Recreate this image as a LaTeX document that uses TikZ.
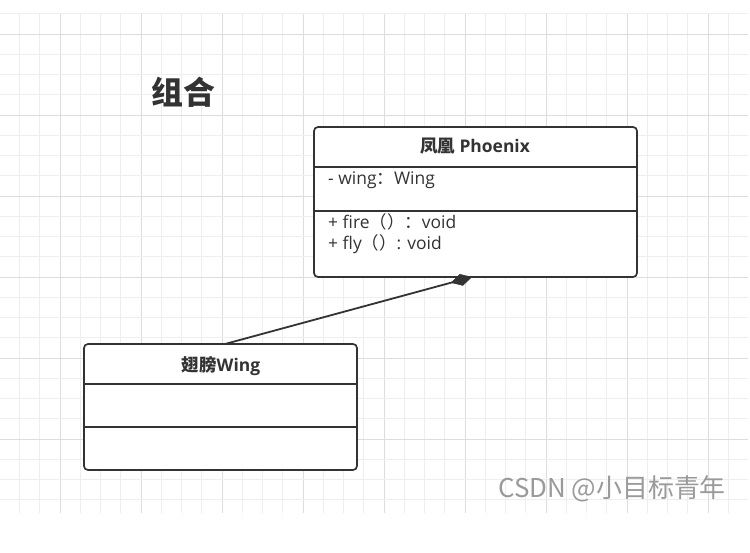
\documentclass[tikz,border=0pt]{standalone}
\usepackage{fontspec}
\setmainfont{Open Sans}
\newfontfamily\cjk{Noto Sans CJK SC}
\usetikzlibrary{arrows.meta}
\definecolor{ink}{HTML}{333333}
\definecolor{minorg}{HTML}{EEEEEE}
\definecolor{majorg}{HTML}{DDDDDD}
\definecolor{wm}{HTML}{9A9A9A}
\tikzset{
  minorgrid/.style={draw=minorg, line width=0.8bp},
  majorgrid/.style={draw=majorg, line width=0.9bp},
  classbox/.style={draw=ink, line width=1.7bp, rounded corners=4bp, fill=white, inner sep=0pt},
  sep/.style={draw=ink, line width=1.7bp},
  titletxt/.style={text=ink, font=\fontsize{17.5}{20}\selectfont\bfseries, inner sep=0pt},
  membertxt/.style={text=ink, font=\fontsize{17.5}{20}\selectfont, inner sep=0pt, anchor=base west},
  link/.style={draw=ink, line width=1.8bp, -{Diamond[length=22bp, width=12bp, line width=0.5bp]}}
}
\begin{document}
\begin{tikzpicture}[x=1bp, y=-1bp]
\useasboundingbox[fill=white] (0,0) rectangle (750,553);
% grid
\foreach \k in {-3,...,33}{
  \pgfmathtruncatemacro\m{mod(\k+40,4)}
  \ifnum\m=0
    \draw[majorgrid] ({60+20.25*\k},13) -- ({60+20.25*\k},513);
  \else
    \draw[minorgrid] ({60+20.25*\k},13) -- ({60+20.25*\k},513);
  \fi
}
\foreach \k in {-5,...,19}{
  \pgfmathtruncatemacro\m{mod(\k+40,4)}
  \ifnum\m=0
    \draw[majorgrid] (0,{115+20.25*\k}) -- (748,{115+20.25*\k});
  \else
    \draw[minorgrid] (0,{115+20.25*\k}) -- (748,{115+20.25*\k});
  \fi
}
% heading
\node[text=ink, font=\fontsize{32}{36}\selectfont\cjk\bfseries, inner sep=0pt] (heading) at (183,92) {组合};
% Phoenix class
\node[classbox, minimum width=323bp, minimum height=150bp] (phoenix) at (475.5,202) {};
\draw[sep] (phoenix.west |- 0,167) -- (phoenix.east |- 0,167);
\draw[sep] (phoenix.west |- 0,211) -- (phoenix.east |- 0,211);
\node[titletxt, anchor=base] (ptitle) at (475,153) {{\cjk 凤凰} Phoenix};
\node[membertxt] (pattr) at (328,185) {- wing{\cjk ：}Wing};
\node[membertxt] (pfire) at (328,229) {+ fire{\cjk （）：}void};
\node[membertxt] (pfly) at (328,250) {+ fly{\cjk （）}: void};
% Wing class
\node[classbox, minimum width=273bp, minimum height=126bp] (wing) at (220.5,407) {};
\draw[sep] (wing.west |- 0,384) -- (wing.east |- 0,384);
\draw[sep] (wing.west |- 0,427) -- (wing.east |- 0,427);
\node[titletxt, anchor=base] (wtitle) at (221,371) {{\cjk 翅膀}Wing};
% composition
\coordinate (wtop) at (225,344);
\coordinate (pbot) at (472,277);
\draw[link] (wtop) -- (pbot);
% watermark
\node[text=wm, font=\fontsize{26}{30}\selectfont\cjk, inner sep=0pt] (mark) at (612,489) {CSDN @小目标青年};
\end{tikzpicture}
\end{document}
